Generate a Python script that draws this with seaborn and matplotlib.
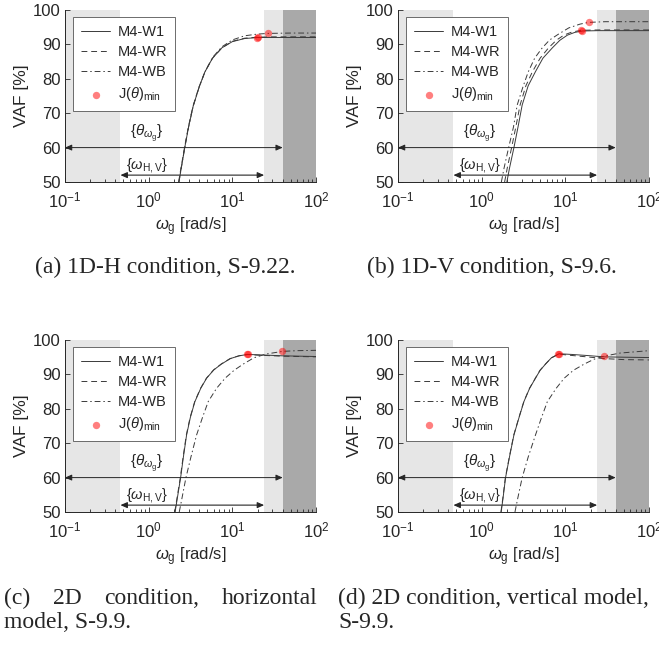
import numpy as np
import pandas as pd
import matplotlib
matplotlib.use('Agg')
import matplotlib.pyplot as plt
import seaborn as sns

# ---- values (omega_g in rad/s, VAF in %) ----
models = ['M4-W1', 'M4-WR', 'M4-WB']

# (a) 1D-H
a_w1_w = [2.3, 2.45, 2.7, 3.0, 3.4, 4.0, 4.7, 5.8, 7.5, 10, 14, 20, 30, 50, 100]
a_w1_v = [50, 54, 60, 66, 72, 77.5, 82, 86, 89, 90.8, 91.7, 92.0, 92.0, 92.0, 92.0]
a_wr_w = [2.28, 2.43, 2.68, 2.98, 3.38, 3.98, 4.7, 5.8, 7.5, 10, 14, 20, 30, 50, 100]
a_wr_v = [50, 54, 60, 66, 72, 77.5, 82, 86, 89, 90.9, 91.8, 92.1, 92.2, 92.2, 92.2]
a_wb_w = [2.3, 2.45, 2.7, 3.0, 3.4, 4.0, 4.7, 5.8, 7.5, 10, 14, 20, 27, 50, 100]
a_wb_v = [50, 54, 60, 66, 72, 77.5, 82, 86.2, 89.3, 91.3, 92.5, 93.0, 93.2, 93.3, 93.3]
a_dot_w = [19.9, 20.5, 26.5]
a_dot_v = [92.0, 92.1, 93.2]

# (b) 1D-V
b_w1_w = [2.0, 2.15, 2.43, 2.72, 3.05, 3.6, 4.4, 5.4, 7.0, 8.6, 10.6, 13, 16, 25, 100]
b_w1_v = [50, 54, 60, 66, 72.4, 78, 82.1, 86, 89, 91.2, 92.7, 93.5, 93.9, 94.0, 94.0]
b_wr_w = [1.88, 2.02, 2.28, 2.56, 2.88, 3.38, 4.05, 5.0, 6.3, 7.8, 9.6, 12, 15.5, 25, 100]
b_wr_v = [50, 54, 60, 66, 72.4, 78, 82.1, 86, 89, 91.2, 92.7, 93.6, 94.1, 94.2, 94.2]
b_wb_w = [1.72, 1.85, 2.1, 2.4, 2.66, 3.1, 3.6, 4.3, 5.3, 6.5, 8.3, 11, 15, 19, 30, 100]
b_wb_v = [50, 54, 60, 66, 72.4, 77.5, 82, 86, 89, 91.3, 93, 94.8, 95.9, 96.4, 96.6, 96.6]
b_dot_w = [15.8, 15.3, 19.3]
b_dot_v = [94.0, 94.1, 96.5]

# (c) 2D, horizontal model
c_w1_w = [2.07, 2.2, 2.41, 2.6, 2.84, 3.15, 3.57, 4.2, 4.93, 6.0, 7.4, 9.5, 12, 15.2, 20, 40, 100]
c_w1_v = [50, 54, 60, 66, 72.4, 77.5, 82.1, 86, 88.9, 91.3, 93, 94.6, 95.4, 95.8, 95.7, 95.4, 95.2]
c_wr_w = [2.05, 2.18, 2.39, 2.58, 2.82, 3.13, 3.55, 4.18, 4.9, 5.97, 7.35, 9.4, 12, 15.2, 20, 40, 100]
c_wr_v = [50, 54, 60, 66, 72.4, 77.5, 82.1, 86, 88.9, 91.3, 93, 94.6, 95.4, 95.8, 95.6, 95.3, 95.1]
c_wb_w = [2.32, 2.5, 2.79, 3.2, 3.74, 4.4, 5.15, 6.5, 8.2, 10.5, 13.5, 18, 25, 40, 60, 100]
c_wb_v = [50, 54, 60, 66, 72.4, 77.5, 82.1, 86, 88.9, 91.2, 93, 94.8, 95.9, 96.7, 96.9, 97.0]
c_dot_w = [15.2, 15.0, 39.7]
c_dot_v = [95.8, 95.8, 96.7]

# (d) 2D, vertical model
d_w1_w = [1.71, 1.8, 1.93, 2.15, 2.43, 2.8, 3.2, 3.75, 4.4, 5.0, 5.8, 6.8, 8.4, 12, 18, 29, 50, 100]
d_w1_v = [50, 54, 60, 66, 72.4, 77.5, 82.1, 86, 88.9, 91.2, 93, 94.8, 96.0, 95.8, 95.5, 95.1, 95.0, 94.9]
d_wr_w = [1.70, 1.79, 1.92, 2.14, 2.42, 2.79, 3.19, 3.74, 4.38, 4.98, 5.78, 6.8, 8.3, 12, 18, 29, 50, 100]
d_wr_v = [50, 54, 60, 66, 72.4, 77.5, 82.1, 86, 88.9, 91.2, 93, 94.8, 95.9, 95.5, 95.1, 94.6, 94.3, 94.2]
d_wb_w = [2.5, 2.7, 3.05, 3.6, 4.4, 5.2, 6.1, 7.8, 9.7, 12.5, 16.8, 22, 29, 45, 100]
d_wb_v = [50, 54, 60, 66, 72.4, 77.5, 82.1, 86, 88.9, 91.2, 93, 94.4, 95.3, 96.2, 96.9]
d_dot_w = [8.4, 8.2, 29.0]
d_dot_v = [96.0, 95.9, 95.3]

# frequency bands (rad/s)
band_hv = [0.46, 24]      # {omega_H,V}
band_theta = [0.1, 40]    # {theta_omega_g}
x_range = [0.1, 100]

captions = ['(a) 1D-H condition, S-9.22.', '(b) 1D-V condition, S-9.6.',
            '(c) 2D condition, horizontal model, S-9.9.',
            '(d) 2D condition, vertical model, S-9.9.']

# ---- long table ----
curves = {
    'a': [(a_w1_w, a_w1_v), (a_wr_w, a_wr_v), (a_wb_w, a_wb_v)],
    'b': [(b_w1_w, b_w1_v), (b_wr_w, b_wr_v), (b_wb_w, b_wb_v)],
    'c': [(c_w1_w, c_w1_v), (c_wr_w, c_wr_v), (c_wb_w, c_wb_v)],
    'd': [(d_w1_w, d_w1_v), (d_wr_w, d_wr_v), (d_wb_w, d_wb_v)],
}
dots = {'a': (a_dot_w, a_dot_v), 'b': (b_dot_w, b_dot_v),
        'c': (c_dot_w, c_dot_v), 'd': (d_dot_w, d_dot_v)}

frames = []
for p, lst in curves.items():
    for m, (w, v) in zip(models, lst):
        frames.append(pd.DataFrame({'panel': p, 'model': m, 'w': w, 'vaf': v}))
df = pd.concat(frames, ignore_index=True)

# ---- style ----
sns.set_style('ticks')
plt.rcParams['font.family'] = ['Liberation Sans', 'DejaVu Sans']
plt.rcParams['mathtext.fontset'] = 'custom'
plt.rcParams['mathtext.rm'] = 'Liberation Sans'
plt.rcParams['mathtext.it'] = 'Liberation Sans:italic'
plt.rcParams['mathtext.bf'] = 'Liberation Sans:bold'
plt.rcParams['axes.linewidth'] = 0.7

line_col = '#3a3a3a'
styles = {'M4-W1': '-', 'M4-WR': (0, (6, 4)), 'M4-WB': (0, (6, 3, 1.5, 3))}
light = '#e6e6e6'
dark = '#a9a9a9'
ax_col = '#262626'

W, H = 659, 645
fig = plt.figure(figsize=(W / 100, H / 100), dpi=100)

boxes = {'a': (65, 10), 'b': (398, 10), 'c': (65, 340), 'd': (398, 340)}
aw, ah = 251, 172

for p, (left, top) in boxes.items():
    ax = fig.add_axes([left / W, 1 - (top + ah) / H, aw / W, ah / H])
    ax.set_xscale('log')
    ax.axvspan(x_range[0], band_hv[0], color=light, lw=0, zorder=0)
    ax.axvspan(band_hv[1], band_theta[1], color=light, lw=0, zorder=0)
    ax.axvspan(band_theta[1], x_range[1], color=dark, lw=0, zorder=0)

    sub = df[df['panel'] == p]
    for m in models:
        sns.lineplot(data=sub[sub['model'] == m], x='w', y='vaf', ax=ax,
                     color=line_col, lw=0.7, linestyle=styles[m],
                     estimator=None, sort=False, label=m, zorder=3)
    sns.scatterplot(x=dots[p][0], y=dots[p][1], ax=ax, color='red', alpha=0.5,
                    s=28, linewidth=0, zorder=4, label=r'J($\theta$)$_{\rm min}$')

    # band arrows
    ax.annotate('', xy=(band_theta[1], 60), xytext=(band_theta[0], 60),
                arrowprops=dict(arrowstyle='<|-|>,head_length=0.5,head_width=0.22',
                                color=ax_col, lw=0.7, shrinkA=0, shrinkB=0,
                                mutation_scale=8), annotation_clip=False, zorder=5)
    ax.annotate('', xy=(band_hv[1], 52), xytext=(band_hv[0], 52),
                arrowprops=dict(arrowstyle='<|-|>,head_length=0.5,head_width=0.22',
                                color=ax_col, lw=0.8, shrinkA=0, shrinkB=0,
                                mutation_scale=8), annotation_clip=False, zorder=5)
    ax.text(0.95, 64.3, r'$\{\theta_{\omega_{\mathregular{g}}}\}$', ha='center',
            va='center', fontsize=11, color=ax_col)
    ax.text(0.95, 54.8, r'$\{\omega_{\rm H,V}\}$', ha='center', va='center',
            fontsize=10.5, color=ax_col)

    ax.set_xlim(x_range)
    ax.set_ylim(50, 100)
    ax.set_yticks([50, 60, 70, 80, 90, 100])
    ax.set_xlabel(r'$\omega_{\rm g}$ [rad/s]', fontsize=12, labelpad=4)
    ax.set_ylabel('VAF [%]', fontsize=12.5, labelpad=3)
    ax.tick_params(which='both', direction='in', colors=ax_col, labelsize=12,
                   width=0.6)
    ax.tick_params(which='major', length=3.5)
    ax.tick_params(which='minor', length=2)
    ax.tick_params(axis='x', pad=6)
    ax.tick_params(axis='y', pad=3)
    for s in ['top', 'right']:
        ax.spines[s].set_visible(False)
    for s in ['left', 'bottom']:
        ax.spines[s].set_color(ax_col)

    leg = ax.legend(loc='upper left', bbox_to_anchor=(0.032, 0.959), borderaxespad=0,
                    fancybox=False, edgecolor='#555555', framealpha=1, fontsize=10.5,
                    handlelength=2.0, labelspacing=0.42, borderpad=0.55,
                    handletextpad=0.5, markerscale=1.0)
    leg.get_frame().set_linewidth(0.6)

# ---- captions ----
cap_font = dict(family='Liberation Serif', fontsize=17, va='center')
fig.text(165 / W, 1 - 267 / H, captions[0], ha='center', **cap_font)
fig.text(492 / W, 1 - 267 / H, captions[1], ha='center', **cap_font)

renderer = fig.canvas.get_renderer()


def justified(words, x0, x1, y):
    texts = [fig.text(0, 1 - y / H, wd, ha='left', **cap_font) for wd in words]
    widths = [t.get_window_extent(renderer).width for t in texts]
    gap = ((x1 - x0) - sum(widths)) / (len(words) - 1)
    x = x0
    for t, wd in zip(texts, widths):
        t.set_x(x / W)
        x += wd + gap


justified(['(c)', '2D', 'condition,', 'horizontal'], 4, 317, 598)
fig.text(4 / W, 1 - 623 / H, 'model, S-9.9.', ha='left', **cap_font)
fig.text(338 / W, 1 - 598 / H, '(d) 2D condition, vertical model,', ha='left', **cap_font)
fig.text(338 / W, 1 - 623 / H, 'S-9.9.', ha='left', **cap_font)

fig.savefig('out.png', dpi=100)
